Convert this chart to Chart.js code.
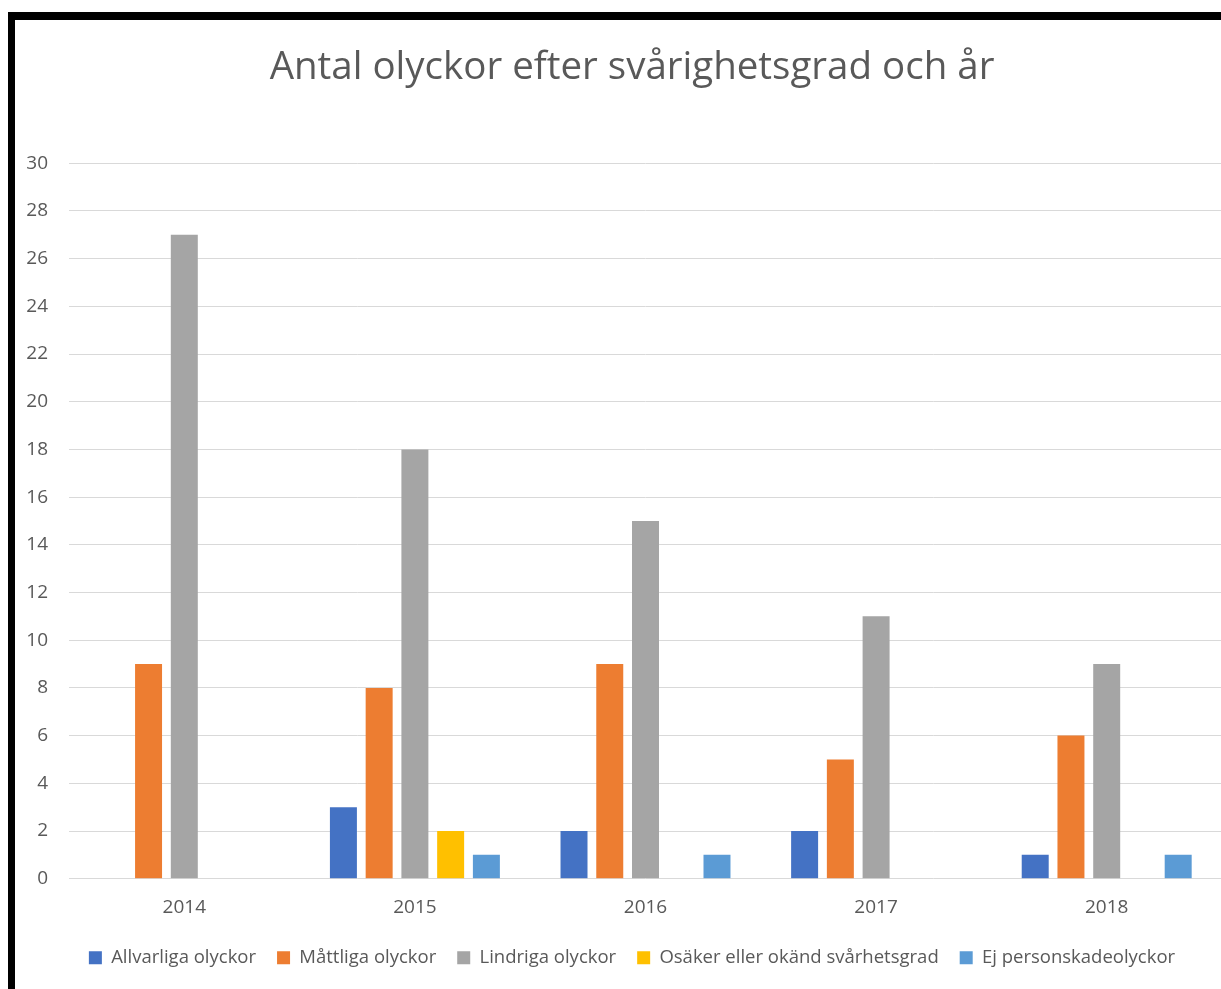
<!DOCTYPE html>
<html>
<head>
<meta charset="utf-8">
<script src="https://cdn.jsdelivr.net/npm/chart.js@4"></script>
<style>
    html, body { margin: 0; padding: 0; background: #fff; overflow: hidden; }
    body { width: 1221px; height: 989px; position: relative; }
    .frame {
        position: absolute; left: 8px; top: 12px; width: 1260px; height: 1000px;
        border-top: 8px solid #000; border-left: 7px solid #000; background: #fff;
    }
    .wrap { position: absolute; left: 15px; top: 20px; width: 1232px; height: 969px; }
</style>
</head>
<body>
<div class="frame"></div>
<div class="wrap"><canvas id="chart"></canvas></div>
<script>
const years = ['2014', '2015', '2016', '2017', '2018'];
const allvarliga = [0, 3, 2, 2, 1];
const mattliga = [9, 8, 9, 5, 6];
const lindriga = [27, 18, 15, 11, 9];
const osaker = [0, 2, 0, 0, 0];
const ejPerson = [0, 1, 1, 0, 1];

const textColor = '#595959';
const fontFamily = '"Open Sans", Lato, sans-serif';

function series(label, data, color) {
    return {
        label,
        data,
        backgroundColor: color,
        borderWidth: 0,
        categoryPercentage: 0.775,
        barPercentage: 0.755
    };
}

new Chart(document.getElementById('chart'), {
    type: 'bar',
    data: {
        labels: years,
        datasets: [
            series('Allvarliga olyckor', allvarliga, '#4472C4'),
            series('Måttliga olyckor', mattliga, '#ED7D31'),
            series('Lindriga olyckor', lindriga, '#A5A5A5'),
            series('Osäker eller okänd svårhetsgrad', osaker, '#FFC000'),
            series('Ej personskadeolyckor', ejPerson, '#5B9BD5')
        ]
    },
    options: {
        responsive: true,
        maintainAspectRatio: false,
        animation: false,
        // left padding + narrow y axis keep title/legend centred like the original
        layout: { padding: { left: 27, right: 25, top: 0, bottom: 12 } },
        plugins: {
            title: {
                display: true,
                text: 'Antal olyckor efter svårighetsgrad och år',
                color: textColor,
                font: { family: fontFamily, size: 38.5, weight: 'normal' },
                padding: { top: 25, bottom: 72 }
            },
            legend: {
                position: 'bottom',
                labels: {
                    color: textColor,
                    font: { family: fontFamily, size: 18.5 },
                    boxWidth: 13,
                    boxHeight: 13,
                    padding: 21
                }
            },
            tooltip: { enabled: false }
        },
        scales: {
            x: {
                grid: { display: false },
                border: { display: false },
                ticks: { color: textColor, font: { family: fontFamily, size: 19 }, padding: 9 }
            },
            y: {
                min: 0,
                max: 30,
                afterFit: s => {
                    s.width = 27;
                    // labels sit left of the narrow axis box, so skip clipping them
                    s._computeLabelArea = () => null;
                },
                grid: { color: '#D9D9D9', lineWidth: 1, drawTicks: false },
                border: { display: false },
                ticks: { stepSize: 2, color: textColor, font: { family: fontFamily, size: 19 }, padding: 21 }
            }
        }
    }
});
</script>
</body>
</html>
